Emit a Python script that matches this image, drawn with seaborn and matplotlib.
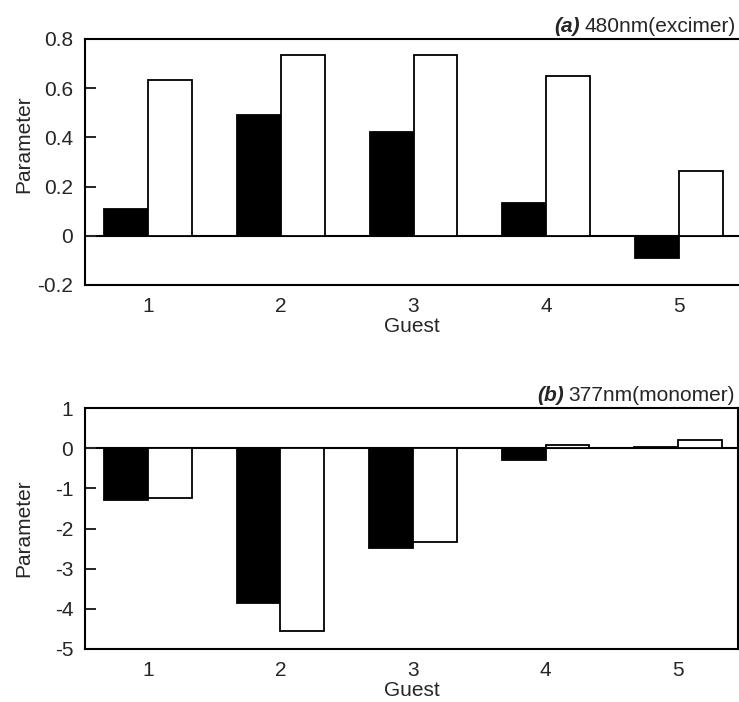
import matplotlib
matplotlib.use("Agg")
import matplotlib.pyplot as plt
import seaborn as sns
import pandas as pd

guests = ["1", "2", "3", "4", "5"]
series_names = ["A", "B"]
excimer_black = [0.11, 0.49, 0.42, 0.135, -0.09]
excimer_white = [0.635, 0.735, 0.735, 0.648, 0.262]
monomer_black = [-1.28, -3.85, -2.48, -0.29, 0.04]
monomer_white = [-1.25, -4.55, -2.33, 0.08, 0.20]
yticks_a = [-0.2, 0, 0.2, 0.4, 0.6, 0.8]
yticklabels_a = ["-0.2", "0", "0.2", "0.4", "0.6", "0.8"]
yticks_b = [-5, -4, -3, -2, -1, 0, 1]
yticklabels_b = ["-5", "-4", "-3", "-2", "-1", "0", "1"]

sns.set_theme(style="ticks")
plt.rcParams["font.family"] = ["Liberation Sans", "DejaVu Sans"]

FS = 15


def make_df(black, white):
    return pd.DataFrame({
        "Guest": guests * 2,
        "Series": [series_names[0]] * len(guests) + [series_names[1]] * len(guests),
        "Parameter": list(black) + list(white),
    })


fig = plt.figure(figsize=(7.39, 7.02), dpi=100)
ax_a = fig.add_axes([85 / 739, 1 - 285 / 702, 654 / 739, (285 - 39) / 702])
ax_b = fig.add_axes([85 / 739, 1 - 649 / 702, 653 / 739, (649 - 408) / 702])


def draw(ax, df, ylim, yticks, yticklabels, bold, rest, right_spine, ylab_y):
    sns.barplot(data=df, x="Guest", y="Parameter", hue="Series",
                palette=["black", "white"], edgecolor="black", linewidth=1.3,
                width=0.66, legend=False, ax=ax, errorbar=None)
    ax.axhline(0, color="black", lw=1.5, zorder=0.5)
    ax.set_xlim(-0.475, 4.452)
    ax.set_ylim(*ylim)
    ax.set_yticks(yticks)
    ax.set_yticklabels(yticklabels)
    ax.tick_params(axis="y", direction="in", length=8, width=1.4, labelsize=FS, pad=8.5)
    ax.tick_params(axis="x", length=0, labelsize=FS, pad=9)
    for s in ["left", "top", "bottom"]:
        ax.spines[s].set_visible(True)
        ax.spines[s].set_linewidth(1.5)
        ax.spines[s].set_color("black")
    ax.spines["right"].set_visible(right_spine)
    ax.spines["right"].set_linewidth(1.5)
    ax.spines["right"].set_color("black")
    ax.set_xlabel("Guest", fontsize=FS, labelpad=0)
    ax.set_ylabel("Parameter", fontsize=FS)
    ax.yaxis.set_label_coords(-0.079, ylab_y)
    t = ax.text(0.995, 1.012, rest, transform=ax.transAxes, ha="right", va="bottom",
                fontsize=FS)
    ax.annotate(bold, xy=(0, 0), xycoords=t, xytext=(-3, 0),
                textcoords="offset points", ha="right", va="bottom",
                fontsize=FS, fontweight="bold", fontstyle="italic")


draw(ax_a, make_df(excimer_black, excimer_white), (-0.2, 0.8), yticks_a, yticklabels_a,
     "(a)", "480nm(excimer)", False, 0.573)
draw(ax_b, make_df(monomer_black, monomer_white), (-5.0, 1.0), yticks_b, yticklabels_b,
     "(b)", "377nm(monomer)", True, 0.5)

fig.savefig("out.png", dpi=100)
